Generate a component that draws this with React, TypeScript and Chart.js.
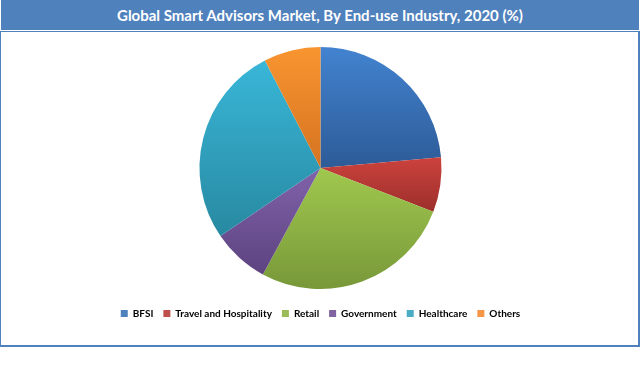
import React, { useEffect, useRef } from "react";
import { Chart, registerables } from "chart.js";

Chart.register(...registerables);

const TITLE = "Global Smart Advisors Market, By End-use Industry, 2020 (%)";
const categories = ["BFSI", "Travel and Hospitality", "Retail", "Government", "Healthcare", "Others"];
const shares = [23.6, 7.3, 27.0, 7.6, 26.9, 7.6];
const topColors = ["#4283d0", "#cc423d", "#a0c84e", "#8062aa", "#39b6d8", "#f99530"];
const bottomColors = ["#2d5b97", "#9c2f2b", "#789839", "#5d4380", "#2889a1", "#d57321"];
const legendColors = ["#4f81bd", "#c0504d", "#9bbb59", "#8064a2", "#4bacc6", "#f79646"];

const PIE_RADIUS = 121;

export default function App() {
  const ref = useRef<HTMLCanvasElement>(null);

  useEffect(() => {
    const total = shares.reduce((a, b) => a + b, 0);
    const chart = new Chart(ref.current as HTMLCanvasElement, {
      type: "pie",
      data: {
        labels: categories,
        datasets: [
          {
            data: shares,
            radius: PIE_RADIUS,
            borderWidth: 0,
            backgroundColor: (ctx: any) => {
              const i = ctx.dataIndex ?? 0;
              const area = ctx.chart.chartArea;
              if (!area) return legendColors[i];
              const cy = (area.top + area.bottom) / 2;
              let before = 0;
              for (let k = 0; k < i; k++) before += shares[k];
              const a = (before / total) * Math.PI * 2;
              const b = ((before + shares[i]) / total) * Math.PI * 2;
              const ys = [cy, cy - PIE_RADIUS * Math.cos(a), cy - PIE_RADIUS * Math.cos(b)];
              if (a <= 0.0001) ys.push(cy - PIE_RADIUS);
              if (a <= Math.PI && b >= Math.PI) ys.push(cy + PIE_RADIUS);
              const y0 = Math.min(...ys);
              const y1 = Math.max(...ys);
              const g = ctx.chart.ctx.createLinearGradient(0, y0, 0, y1);
              g.addColorStop(0, topColors[i]);
              g.addColorStop(1, bottomColors[i]);
              return g;
            },
          },
        ],
      },
      options: {
        responsive: false,
        animation: false,
        layout: { padding: { top: 5.5, bottom: 16.5, left: 2, right: 0 } },
        plugins: {
          tooltip: { enabled: false },
          legend: {
            position: "bottom",
            labels: {
              boxWidth: 7,
              boxHeight: 7,
              padding: 10,
              color: "#1a1a1a",
              font: { family: "Lato", size: 10, weight: "bold" },
              generateLabels: () =>
                categories.map((c, i) => ({
                  text: c,
                  fillStyle: legendColors[i],
                  strokeStyle: legendColors[i],
                  lineWidth: 0,
                  hidden: false,
                  index: i,
                })),
            },
          },
        },
      },
    });
    return () => chart.destroy();
  }, []);

  return (
    <div
      style={{
        position: "fixed",
        left: 0,
        top: 0,
        width: 641,
        height: 383,
        background: "#fff",
      }}
    >
      <div
        style={{
          position: "absolute",
          left: 1,
          top: 0,
          width: 638,
          height: 30,
          background: "#4f81bd",
          color: "#fff",
          fontFamily: "Lato, 'Open Sans', sans-serif",
          fontWeight: 700,
          fontSize: 15,
          lineHeight: "30px",
          textAlign: "center",
        }}
      >
        {TITLE}
      </div>
      <div
        style={{
          position: "absolute",
          left: 0,
          top: 31,
          width: 637,
          height: 313,
          borderTop: "1px solid #4f81bd",
          borderLeft: "1px solid #4f81bd",
          borderRight: "2px solid #4f81bd",
          borderBottom: "2px solid #4f81bd",
        }}
      >
        <canvas ref={ref} width={637} height={313} style={{ display: "block" }} />
      </div>
    </div>
  );
}
